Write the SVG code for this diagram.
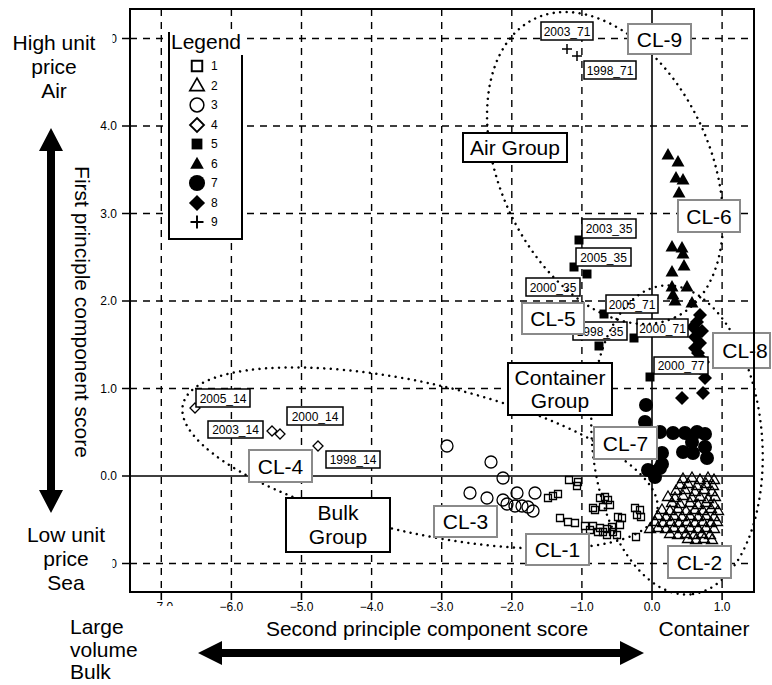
<svg xmlns="http://www.w3.org/2000/svg" width="772" height="685" viewBox="0 0 772 685">
<style>
text{font-family:"Liberation Sans",Arial,Helvetica,sans-serif;fill:#000}
.big{font-size:21px}
.tl{font-size:12px}
.sm{font-size:12px}
.grid{stroke:#000;stroke-width:1.4;stroke-dasharray:7 6;fill:none}
.axis{stroke:#000;stroke-width:1.6;fill:none}
.frame{fill:none;stroke:#000;stroke-width:2}
.dot{fill:none;stroke:#000;stroke-width:2.5;stroke-dasharray:0 6.5;stroke-linecap:round}
.cl rect{fill:#fff;stroke:#8a8a8a;stroke-width:2}
.grp rect{fill:#fff;stroke:#000;stroke-width:2}
.lab rect{fill:#fff;stroke:#000;stroke-width:1.5}
</style>
<defs>
<path id="sq" d="M-3.5,-3.5h7v7h-7z" fill="none" stroke="#000" stroke-width="1.3"/>
<path id="tri" d="M0,-6L5.5,3.5L-5.5,3.5z" fill="none" stroke="#000" stroke-width="1.3"/>
<circle id="ci" r="6" fill="none" stroke="#000" stroke-width="1.3"/>
<path id="di" d="M0,-5L5,0L0,5L-5,0z" fill="#fff" stroke="#000" stroke-width="1.3"/>
<path id="fsq" d="M-4.5,-4.5h9v9h-9z" fill="#000"/>
<path id="ftri" d="M0,-7L6.5,4.5L-6.5,4.5z" fill="#000"/>
<circle id="fci" r="7" fill="#000"/>
<path id="fdi" d="M0,-7L7,0L0,7L-7,0z" fill="#000"/>
<path id="pl" d="M-5,0h10M0,-5v10" stroke="#000" stroke-width="1.5"/>
<clipPath id="c5"><rect x="112.5" y="0" width="30" height="685"/></clipPath>
<clipPath id="c0"><rect x="100.5" y="0" width="30" height="685"/></clipPath>
<clipPath id="c7"><rect x="0" y="0" width="772" height="606"/></clipPath>
</defs>
<rect width="772" height="685" fill="#fff"/>

<g id="grid">
<path class="grid" d="M161.3,9V592M231.4,9V592M301.5,9V592M371.6,9V592M441.7,9V592M511.8,9V592M581.9,9V592M722.1,9V592"/>
<path class="grid" d="M130,38.5H754M130,126H754M130,213.5H754M130,301H754M130,388.5H754M130,563.5H754"/>
<path class="axis" d="M652,9V592M130,476H754"/>
<path class="axis" d="M122,38.5H130M122,126H130M122,213.5H130M122,301H130M122,388.5H130M122,476H130M122,563.5H130"/>
<path class="axis" d="M161.3,592V600M231.4,592V600M301.5,592V600M371.6,592V600M441.7,592V600M511.8,592V600M581.9,592V600M652,592V600M722.1,592V600"/>
</g>

<g id="axis-labels">
<text class="tl" x="117" y="42.5" text-anchor="end" clip-path="url(#c5)">5.0</text>
<text class="tl" x="117" y="130" text-anchor="end">4.0</text>
<text class="tl" x="117" y="217.5" text-anchor="end">3.0</text>
<text class="tl" x="117" y="305" text-anchor="end">2.0</text>
<text class="tl" x="117" y="392.5" text-anchor="end">1.0</text>
<text class="tl" x="117" y="480" text-anchor="end" clip-path="url(#c0)">0.0</text>
<text class="tl" x="117" y="567.5" text-anchor="end" clip-path="url(#c5)">−1.0</text>
<text class="tl" x="161.3" y="611" text-anchor="middle" clip-path="url(#c7)">−7.0</text>
<text class="tl" x="231.4" y="611" text-anchor="middle">−6.0</text>
<text class="tl" x="301.5" y="611" text-anchor="middle">−5.0</text>
<text class="tl" x="371.6" y="611" text-anchor="middle">−4.0</text>
<text class="tl" x="441.7" y="611" text-anchor="middle">−3.0</text>
<text class="tl" x="511.8" y="611" text-anchor="middle">−2.0</text>
<text class="tl" x="581.9" y="611" text-anchor="middle">−1.0</text>
<text class="tl" x="652" y="611" text-anchor="middle">0.0</text>
<text class="tl" x="722.1" y="611" text-anchor="middle">1.0</text>
</g>

<g id="markers">
<g id="cl9-points"><use href="#pl" x="567" y="49"/><use href="#pl" x="577" y="56"/></g>
<g id="cl6-points">
<use href="#ftri" x="668" y="155"/><use href="#ftri" x="678" y="162"/><use href="#ftri" x="676" y="178"/><use href="#ftri" x="683" y="180"/><use href="#ftri" x="679" y="193"/>
<use href="#ftri" x="672" y="247"/><use href="#ftri" x="682" y="248"/><use href="#ftri" x="683" y="254"/><use href="#ftri" x="684" y="266"/><use href="#ftri" x="672" y="272"/>
<use href="#ftri" x="672" y="287"/><use href="#ftri" x="687" y="287"/><use href="#ftri" x="673" y="295"/><use href="#ftri" x="675" y="301"/><use href="#ftri" x="692" y="303"/>
</g>
<g id="cl8-points">
<use href="#fdi" x="700" y="315"/><use href="#fdi" x="697" y="322"/><use href="#fdi" x="693" y="327"/><use href="#fdi" x="702" y="331"/><use href="#fdi" x="695" y="337"/>
<use href="#fdi" x="700" y="343"/><use href="#fdi" x="695" y="348"/><use href="#fdi" x="698" y="353"/><use href="#fdi" x="700" y="358"/><use href="#fdi" x="703" y="362"/>
<use href="#fdi" x="700" y="368"/><use href="#fdi" x="705" y="378"/><use href="#fdi" x="703" y="393"/><use href="#fdi" x="682" y="398"/>
</g>
<g id="cl7-points">
<use href="#fci" x="646" y="405"/><use href="#fci" x="645" y="422"/><use href="#fci" x="660" y="432"/><use href="#fci" x="673" y="433"/><use href="#fci" x="685" y="433"/>
<use href="#fci" x="697" y="432"/><use href="#fci" x="705" y="434"/><use href="#fci" x="692" y="442"/><use href="#fci" x="705" y="447"/><use href="#fci" x="662" y="453"/>
<use href="#fci" x="683" y="452"/><use href="#fci" x="693" y="453"/><use href="#fci" x="707" y="458"/><use href="#fci" x="653" y="472"/><use href="#fci" x="660" y="468"/>
<use href="#fci" x="655" y="477"/><use href="#fci" x="662" y="464"/><use href="#fci" x="648" y="470"/>
</g>
<g id="cl5-points">
<use href="#fsq" x="579" y="240"/><use href="#fsq" x="574" y="267"/><use href="#fsq" x="587" y="274"/><use href="#fsq" x="604" y="314"/>
<use href="#fsq" x="599" y="346"/><use href="#fsq" x="634" y="338"/><use href="#fsq" x="650" y="377"/>
</g>
<g id="cl4-points"><use href="#di" x="195" y="408"/><use href="#di" x="272" y="431"/><use href="#di" x="280" y="434"/><use href="#di" x="318" y="446"/></g>
<g id="cl3-points">
<use href="#ci" x="447" y="446"/><use href="#ci" x="491" y="462"/><use href="#ci" x="503" y="478"/><use href="#ci" x="470" y="493"/><use href="#ci" x="487" y="498"/>
<use href="#ci" x="503" y="500"/><use href="#ci" x="517" y="493"/><use href="#ci" x="535" y="493"/><use href="#ci" x="507" y="504"/><use href="#ci" x="515" y="506"/>
<use href="#ci" x="522" y="506"/><use href="#ci" x="528" y="507"/><use href="#ci" x="533" y="511"/>
</g>
<g id="cl1-points">
<use href="#sq" x="569" y="480"/><use href="#sq" x="578" y="482"/><use href="#sq" x="577" y="486"/><use href="#sq" x="548" y="498"/><use href="#sq" x="553" y="496"/>
<use href="#sq" x="558" y="494"/><use href="#sq" x="593" y="508"/><use href="#sq" x="600" y="498"/><use href="#sq" x="605" y="497"/><use href="#sq" x="608" y="500"/>
<use href="#sq" x="610" y="505"/><use href="#sq" x="595" y="510"/><use href="#sq" x="603" y="507"/><use href="#sq" x="560" y="518"/><use href="#sq" x="568" y="522"/>
<use href="#sq" x="575" y="523"/><use href="#sq" x="585" y="526"/><use href="#sq" x="593" y="526"/><use href="#sq" x="600" y="528"/><use href="#sq" x="607" y="529"/>
<use href="#sq" x="613" y="532"/><use href="#sq" x="617" y="535"/><use href="#sq" x="598" y="532"/><use href="#sq" x="607" y="535"/><use href="#sq" x="618" y="517"/>
<use href="#sq" x="622" y="518"/><use href="#sq" x="620" y="525"/><use href="#sq" x="635" y="508"/><use href="#sq" x="640" y="510"/><use href="#sq" x="637" y="515"/>
<use href="#sq" x="641" y="517"/><use href="#sq" x="636" y="537"/><use href="#sq" x="590" y="530"/><use href="#sq" x="603" y="532"/><use href="#sq" x="612" y="527"/>
</g>
<g id="cl2-points">
<use href="#tri" x="683" y="479"/><use href="#tri" x="692" y="478"/><use href="#tri" x="700" y="480"/><use href="#tri" x="708" y="478"/><use href="#tri" x="714" y="480"/>
<use href="#tri" x="680" y="485"/><use href="#tri" x="688" y="484"/><use href="#tri" x="697" y="486"/><use href="#tri" x="706" y="484"/><use href="#tri" x="713" y="486"/>
<use href="#tri" x="676" y="491"/><use href="#tri" x="685" y="490"/><use href="#tri" x="695" y="492"/><use href="#tri" x="704" y="490"/><use href="#tri" x="712" y="492"/>
<use href="#tri" x="668" y="497"/><use href="#tri" x="675" y="498"/><use href="#tri" x="683" y="496"/><use href="#tri" x="692" y="498"/><use href="#tri" x="700" y="497"/><use href="#tri" x="708" y="499"/><use href="#tri" x="715" y="497"/>
<use href="#tri" x="672" y="503"/><use href="#tri" x="680" y="504"/><use href="#tri" x="690" y="503"/><use href="#tri" x="698" y="505"/><use href="#tri" x="706" y="503"/><use href="#tri" x="714" y="505"/>
<use href="#tri" x="662" y="510"/><use href="#tri" x="670" y="511"/><use href="#tri" x="678" y="509"/><use href="#tri" x="686" y="511"/><use href="#tri" x="695" y="510"/><use href="#tri" x="703" y="511"/><use href="#tri" x="711" y="509"/><use href="#tri" x="718" y="511"/>
<use href="#tri" x="658" y="516"/><use href="#tri" x="666" y="517"/><use href="#tri" x="674" y="516"/><use href="#tri" x="682" y="517"/><use href="#tri" x="690" y="516"/><use href="#tri" x="698" y="517"/><use href="#tri" x="706" y="516"/><use href="#tri" x="714" y="517"/>
<use href="#tri" x="655" y="522"/><use href="#tri" x="663" y="523"/><use href="#tri" x="671" y="522"/><use href="#tri" x="679" y="523"/><use href="#tri" x="687" y="522"/><use href="#tri" x="695" y="523"/><use href="#tri" x="703" y="522"/><use href="#tri" x="711" y="523"/><use href="#tri" x="717" y="522"/>
<use href="#tri" x="650" y="529"/><use href="#tri" x="658" y="528"/><use href="#tri" x="666" y="529"/><use href="#tri" x="674" y="528"/><use href="#tri" x="682" y="529"/><use href="#tri" x="690" y="528"/><use href="#tri" x="698" y="529"/><use href="#tri" x="706" y="528"/><use href="#tri" x="714" y="529"/>
<use href="#tri" x="670" y="534"/><use href="#tri" x="678" y="535"/><use href="#tri" x="686" y="534"/><use href="#tri" x="694" y="535"/><use href="#tri" x="702" y="534"/><use href="#tri" x="710" y="535"/>
<use href="#tri" x="688" y="539"/><use href="#tri" x="696" y="540"/><use href="#tri" x="704" y="539"/><use href="#tri" x="712" y="540"/>
</g>
</g>

<g id="point-labels" class="lab">
<g id="l-2003_71"><rect x="541" y="22" width="52" height="18"/><text class="sm" x="567" y="36" text-anchor="middle">2003_71</text></g>
<g id="l-1998_71"><rect x="584" y="61" width="52" height="18"/><text class="sm" x="610" y="75" text-anchor="middle">1998_71</text></g>
<g id="l-2003_35"><rect x="582" y="219" width="54" height="19"/><text class="sm" x="609" y="233" text-anchor="middle">2003_35</text></g>
<g id="l-2005_35"><rect x="576" y="248" width="55" height="18"/><text class="sm" x="603.5" y="262" text-anchor="middle">2005_35</text></g>
<g id="l-2000_35"><rect x="526" y="278" width="54" height="18"/><text class="sm" x="553" y="292" text-anchor="middle">2000_35</text></g>
<g id="l-2005_71"><rect x="606" y="295" width="52" height="18"/><text class="sm" x="632" y="309" text-anchor="middle">2005_71</text></g>
<g id="l-1998_35"><rect x="573" y="322" width="54" height="18"/><text class="sm" x="600" y="336" text-anchor="middle">1998_35</text></g>
<g id="l-2000_71"><rect x="637" y="319" width="51" height="18"/><text class="sm" x="662.5" y="333" text-anchor="middle">2000_71</text></g>
<g id="l-2000_77"><rect x="654" y="357" width="54" height="17"/><text class="sm" x="681" y="370" text-anchor="middle">2000_77</text></g>
<g id="l-2005_14"><rect x="196" y="389" width="54" height="18"/><text class="sm" x="223" y="403" text-anchor="middle">2005_14</text></g>
<g id="l-2003_14"><rect x="208" y="421" width="55" height="17"/><text class="sm" x="235.5" y="434" text-anchor="middle">2003_14</text></g>
<g id="l-2000_14"><rect x="287" y="407" width="56" height="18"/><text class="sm" x="315" y="421" text-anchor="middle">2000_14</text></g>
<g id="l-1998_14"><rect x="326" y="451" width="54" height="17"/><text class="sm" x="353" y="464" text-anchor="middle">1998_14</text></g>
</g>

<g id="connectors">
<ellipse id="air-group-ellipse" class="dot" cx="0" cy="0" rx="165" ry="105" transform="translate(605,168) rotate(65)"/>
<ellipse id="container-group-ellipse" class="dot" cx="0" cy="0" rx="155" ry="85" transform="translate(677,440) rotate(85)"/>
<ellipse id="bulk-group-ellipse" class="dot" cx="0" cy="0" rx="243" ry="75" transform="translate(420,458) rotate(12.7)"/>
</g>

<g id="cluster-labels" class="cl">
<g id="CL-9"><rect x="628" y="24" width="63" height="30"/><text class="big" x="659.5" y="47" text-anchor="middle">CL-9</text></g>
<g id="CL-6"><rect x="678" y="200" width="62" height="32"/><text class="big" x="709" y="224" text-anchor="middle">CL-6</text></g>
<g id="CL-5"><rect x="522" y="303" width="62" height="31"/><text class="big" x="553" y="326" text-anchor="middle">CL-5</text></g>
<g id="CL-8"><rect x="713" y="333" width="57" height="35"/><text class="big" x="745" y="358" text-anchor="middle">CL-8</text></g>
<g id="CL-7"><rect x="594" y="427" width="63" height="32"/><text class="big" x="625.5" y="451" text-anchor="middle">CL-7</text></g>
<g id="CL-4"><rect x="249" y="450" width="63" height="32"/><text class="big" x="280.5" y="474" text-anchor="middle">CL-4</text></g>
<g id="CL-3"><rect x="434" y="506" width="63" height="31"/><text class="big" x="465.5" y="529" text-anchor="middle">CL-3</text></g>
<g id="CL-1"><rect x="526" y="534" width="63" height="31"/><text class="big" x="557.5" y="557" text-anchor="middle">CL-1</text></g>
<g id="CL-2"><rect x="668" y="546" width="63" height="32"/><text class="big" x="699.5" y="570" text-anchor="middle">CL-2</text></g>
</g>

<g id="group-labels" class="grp">
<g id="air-group"><rect x="463" y="133" width="104" height="29"/><text class="big" x="515" y="155" text-anchor="middle">Air Group</text></g>
<g id="container-group"><rect x="508" y="363" width="104" height="52"/><text class="big" x="560" y="385" text-anchor="middle">Container</text><text class="big" x="560" y="408" text-anchor="middle">Group</text></g>
<g id="bulk-group"><rect x="286" y="498" width="104" height="54"/><text class="big" x="338" y="520" text-anchor="middle">Bulk</text><text class="big" x="338" y="544" text-anchor="middle">Group</text></g>
</g>

<rect class="frame" x="130" y="9" width="624" height="583"/>

<g id="legend">
<rect x="166" y="30" width="80" height="209" fill="#fff"/>
<path d="M169,32V239H242V55" fill="none" stroke="#000" stroke-width="2"/>
<text class="big" x="206" y="49" text-anchor="middle">Legend</text>
<use href="#sq" transform="translate(197,66) scale(1.5)"/><text class="sm" x="211" y="70">1</text>
<use href="#tri" transform="translate(197,86) scale(1.3)"/><text class="sm" x="211" y="90">2</text>
<use href="#ci" transform="translate(197,105) scale(1.15)"/><text class="sm" x="211" y="109">3</text>
<use href="#di" transform="translate(197,125) scale(1.4)"/><text class="sm" x="211" y="129">4</text>
<use href="#fsq" transform="translate(197,144) scale(1.2)"/><text class="sm" x="211" y="148">5</text>
<use href="#ftri" transform="translate(197,164) scale(1.05)"/><text class="sm" x="211" y="168">6</text>
<use href="#fci" transform="translate(197,183) scale(1.15)"/><text class="sm" x="211" y="187">7</text>
<use href="#fdi" transform="translate(197,203) scale(1.15)"/><text class="sm" x="211" y="207">8</text>
<use href="#pl" transform="translate(197,222) scale(1.3)"/><text class="sm" x="211" y="226">9</text>
</g>

<g id="y-side">
<text class="big" x="54" y="50" text-anchor="middle">High unit</text>
<text class="big" x="54" y="74" text-anchor="middle">price</text>
<text class="big" x="54" y="98" text-anchor="middle">Air</text>
<path d="M51,128L63,151H55V490H63L51,513L39,490H47V151H39Z" fill="#000"/>
<text class="big" transform="translate(75,312) rotate(90)" text-anchor="middle">First principle component score</text>
<text class="big" x="66" y="542" text-anchor="middle">Low unit</text>
<text class="big" x="66" y="566" text-anchor="middle">price</text>
<text class="big" x="66" y="590" text-anchor="middle">Sea</text>
</g>

<g id="x-side">
<text class="big" x="70" y="634">Large</text>
<text class="big" x="70" y="657">volume</text>
<text class="big" x="70" y="679">Bulk</text>
<text class="big" x="427" y="636" text-anchor="middle">Second principle component score</text>
<text class="big" x="704" y="636" text-anchor="middle">Container</text>
<path d="M198,653L222,641V649H620V641L644,653L620,665V657H222V665Z" fill="#000"/>
</g>
</svg>
